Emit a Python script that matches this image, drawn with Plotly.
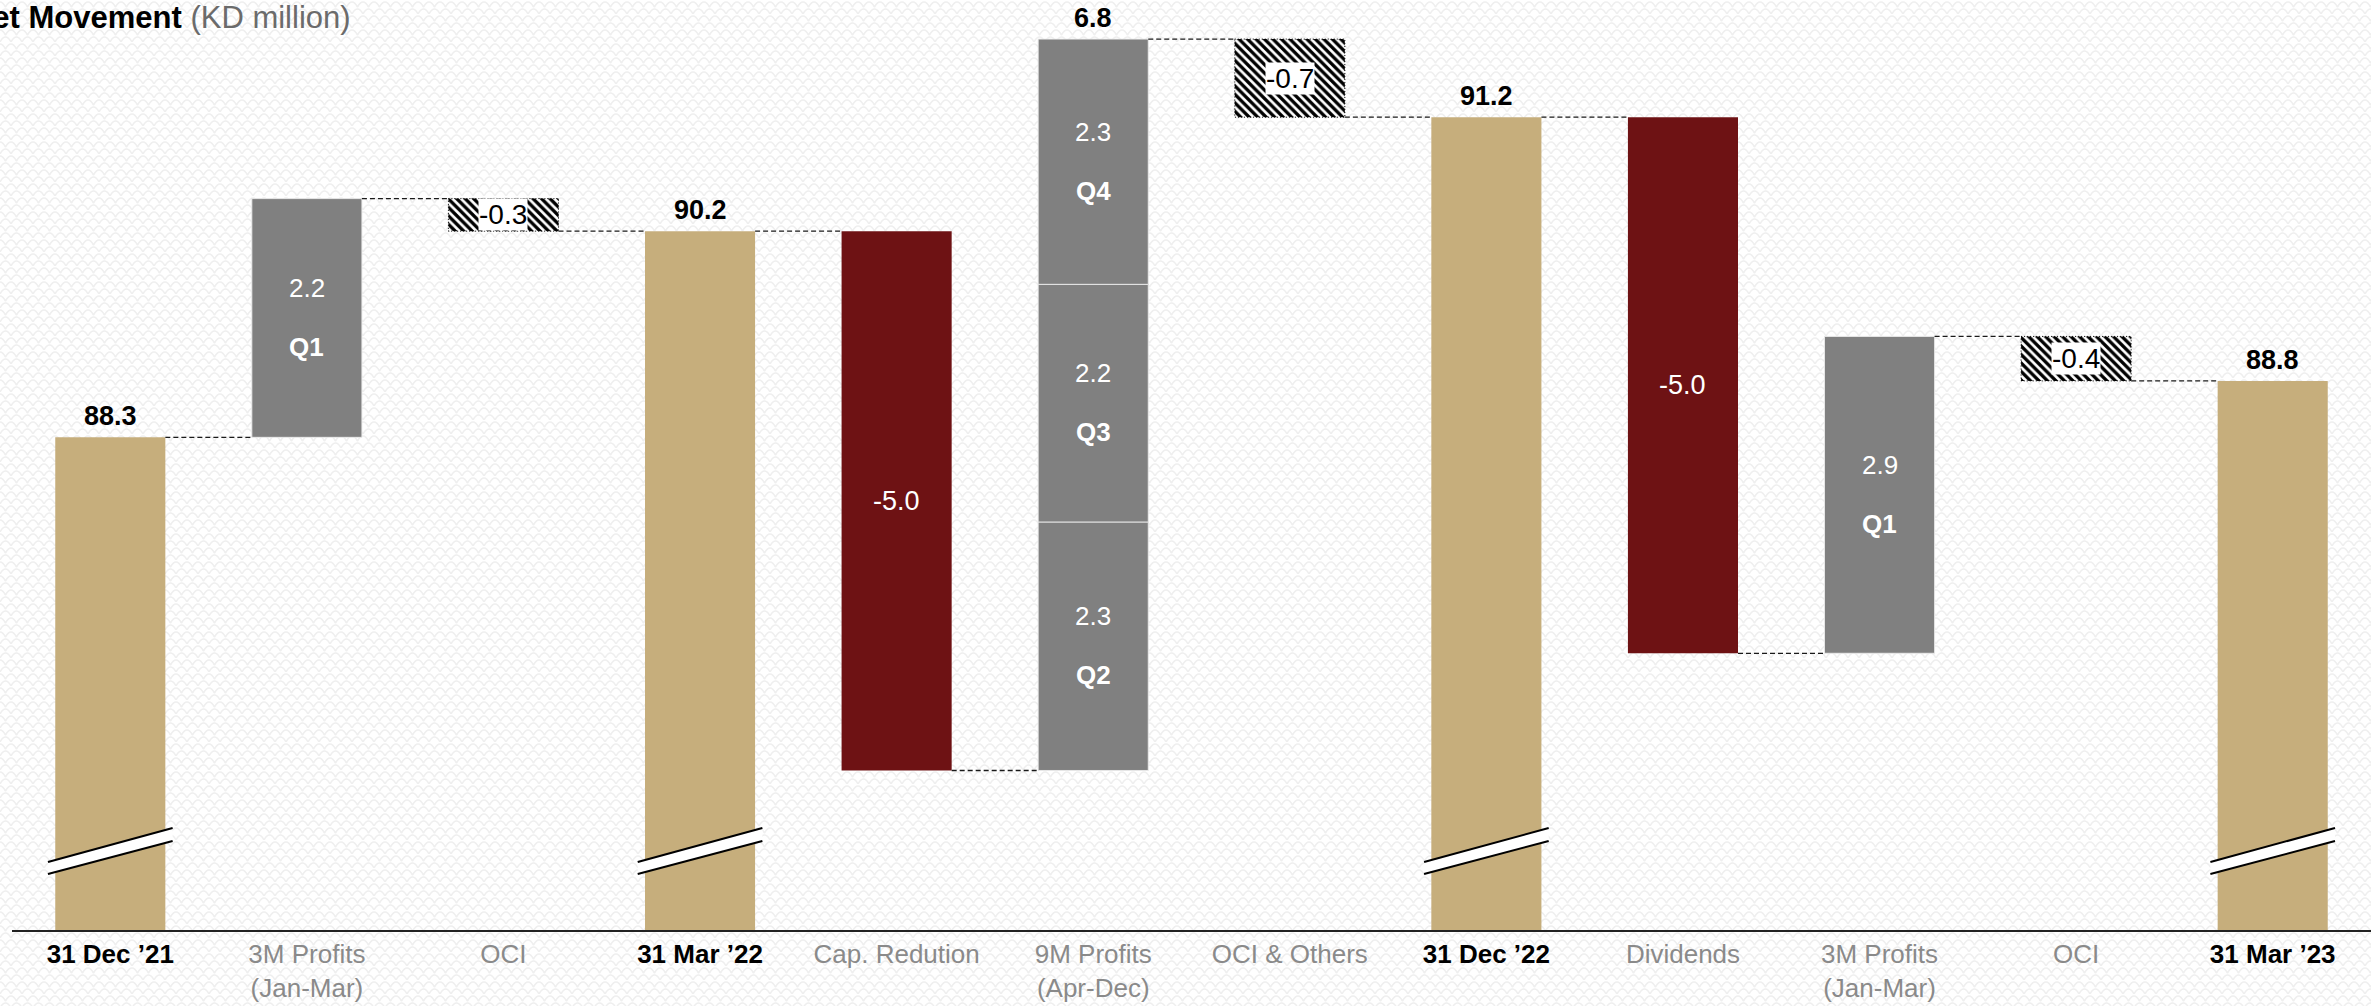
import base64
import plotly.graph_objects as go

# ---------------- data ----------------
CATEGORIES = ["31 Dec ’21", "3M Profits<br>(Jan-Mar)", "OCI", "31 Mar ’22", "Cap. Redution",
              "9M Profits<br>(Apr-Dec)", "OCI & Others", "31 Dec ’22", "Dividends",
              "3M Profits<br>(Jan-Mar)", "OCI", "31 Mar ’23"]
STEP_KIND = ["total", "profit", "oci", "total", "cut", "profit", "oci", "total", "cut", "profit", "oci", "total"]
STEP_VALUES = [[88.30], [2.20], [-0.30], [90.20], [-4.97], [2.29, 2.19, 2.26], [-0.72],
               [91.25], [-4.94], [2.92], [-0.41], [88.82]]
STEP_LABELS = [["88.3"], ["2.2"], ["-0.3"], ["90.2"], ["-5.0"], ["2.3", "2.2", "2.3"], ["-0.7"],
               ["91.2"], ["-5.0"], ["2.9"], ["-0.4"], ["88.8"]]
QUARTER_TAGS = [[], ["Q1"], [], [], [], ["Q2", "Q3", "Q4"], [], [], [], ["Q1"], [], []]
SUBTOTAL_LABELS = [None, None, None, None, None, "6.8", None, None, None, None, None, None]
TITLE_BOLD = "Net Asset Movement"
TITLE_UNIT = "(KD million)"

# ---------------- style ----------------
TAN = "#c6ae7c"
GRAY = "#808080"
RED = "#6e1214"
TICK_GRAY = "#8a8a8a"
W, H = 2371, 1006
ML, MR, MT, MB = 12, 0, 0, 76
PW, PH = W - ML - MR, H - MT - MB
Y_MIN, Y_MAX = 83.76, 92.33
PX_PER_UNIT = PH / (Y_MAX - Y_MIN)
BAR_W = 0.56
FONT = "Liberation Sans, Arial, Helvetica, sans-serif"

# ---------------- build waterfall from data ----------------
groups = {k: dict(x=[], y=[], base=[]) for k in ["total", "profit", "oci", "cut"]}
annotations = []
shapes = []
end_level = []
level = None
for i, kind in enumerate(STEP_KIND):
    if kind == "total":
        level = STEP_VALUES[i][0]
        groups["total"]["x"].append(i)
        groups["total"]["y"].append(level)
        groups["total"]["base"].append(0)
        annotations.append(dict(x=i, y=level, xref="x", yref="y", text="<b>%s</b>" % STEP_LABELS[i][0],
                                showarrow=False, yanchor="middle", yshift=21,
                                font=dict(size=27, color="black", family=FONT)))
    else:
        for j, v in enumerate(STEP_VALUES[i]):
            base = level
            level = level + v
            mid = base + v / 2
            g = groups[kind]
            g["x"].append(i)
            g["y"].append(v)
            g["base"].append(base)
            lab = STEP_LABELS[i][j]
            if kind == "profit":
                annotations.append(dict(x=i, y=mid, xref="x", yref="y", text=lab, showarrow=False,
                                        yanchor="middle", yshift=30,
                                        font=dict(size=26, color="white", family=FONT)))
                annotations.append(dict(x=i, y=mid, xref="x", yref="y", text="<b>%s</b>" % QUARTER_TAGS[i][j],
                                        showarrow=False, yanchor="middle", yshift=-29,
                                        font=dict(size=26, color="white", family=FONT)))
            elif kind == "cut":
                annotations.append(dict(x=i, y=mid, xref="x", yref="y", text=lab, showarrow=False,
                                        yanchor="middle",
                                        font=dict(size=27, color="white", family=FONT)))
            else:  # oci (hatched)
                annotations.append(dict(x=i, y=mid, xref="x", yref="y", text=lab, showarrow=False,
                                        yanchor="middle", bgcolor="white", borderpad=0,
                                        font=dict(size=28, color="black", family=FONT)))
                shapes.append(dict(type="rect", xref="x", yref="y", x0=i - BAR_W / 2, x1=i + BAR_W / 2,
                                   y0=base, y1=level, line=dict(color="black", width=1, dash="1px,2px"),
                                   fillcolor="rgba(0,0,0,0)", layer="above"))
        if SUBTOTAL_LABELS[i]:
            annotations.append(dict(x=i, y=max(level, level - sum(STEP_VALUES[i])), xref="x", yref="y",
                                    text="<b>%s</b>" % SUBTOTAL_LABELS[i], showarrow=False,
                                    yanchor="middle", yshift=21,
                                    font=dict(size=27, color="black", family=FONT)))
    end_level.append(level)

# connectors
for i in range(len(CATEGORIES) - 1):
    shapes.append(dict(type="line", xref="x", yref="y", x0=i + BAR_W / 2, x1=i + 1 - BAR_W / 2,
                       y0=end_level[i], y1=end_level[i],
                       line=dict(color="#1a1a1a", width=1.3, dash="5px,3px"), layer="above"))

# axis-break marks on total bars
def px_up(p):
    return Y_MIN + p / PX_PER_UNIT

for i in groups["total"]["x"]:
    xl, xr = i - 0.317, i + 0.317
    l1 = (px_up(68), px_up(102))
    l2 = (px_up(56), px_up(89))
    shapes.append(dict(type="path", xref="x", yref="y",
                       path="M %f %f L %f %f L %f %f L %f %f Z" % (xl, l1[0], xr, l1[1], xr, l2[1], xl, l2[0]),
                       fillcolor="white", line=dict(width=0), layer="above"))
    for (a, b) in (l1, l2):
        shapes.append(dict(type="line", xref="x", yref="y", x0=xl, x1=xr, y0=a, y1=b,
                           line=dict(color="black", width=2), layer="above"))

fig = go.Figure()
fig.add_trace(go.Bar(x=groups["total"]["x"], y=groups["total"]["y"], width=BAR_W,
                     marker=dict(color=TAN, line=dict(width=0)), hoverinfo="skip"))
fig.add_trace(go.Bar(x=groups["profit"]["x"], y=groups["profit"]["y"], base=groups["profit"]["base"], width=BAR_W,
                     marker=dict(color=GRAY, line=dict(color="rgba(235,235,235,0.9)", width=1)), hoverinfo="skip"))
fig.add_trace(go.Bar(x=groups["cut"]["x"], y=groups["cut"]["y"], base=groups["cut"]["base"], width=BAR_W,
                     marker=dict(color=RED, line=dict(width=0)), hoverinfo="skip"))
fig.add_trace(go.Bar(x=groups["oci"]["x"], y=groups["oci"]["y"], base=groups["oci"]["base"], width=BAR_W,
                     marker=dict(color="white", line=dict(width=0),
                                 pattern=dict(shape="\\", fgcolor="black", bgcolor="white",
                                              size=6, solidity=0.55, fgopacity=1)),
                     hoverinfo="skip"))

# tick labels
ticktext = []
for c, k in zip(CATEGORIES, STEP_KIND):
    if k == "total":
        ticktext.append("<span style='color:black'><b>%s</b></span>" % c)
    else:
        ticktext.append(c)

# title (the reference shows it cut at the left edge)
annotations.append(dict(xref="paper", yref="paper", x=(353 - ML) / PW, y=1 - 17 / PH,
                        xanchor="right", yanchor="middle", showarrow=False,
                        text="<b>%s</b> <span style='color:#6b6b6b'>%s</span>" % (TITLE_BOLD, TITLE_UNIT),
                        font=dict(size=31, color="black", family=FONT)))

# subtle scale-pattern background
svg = ('<svg xmlns="http://www.w3.org/2000/svg" width="%d" height="%d">'
       '<defs><pattern id="p" width="22" height="14" patternUnits="userSpaceOnUse">'
       '<path d="M0 14 Q5.5 4 11 14 M11 14 Q16.5 4 22 14 M-5.5 7 Q0 -3 5.5 7 M5.5 7 Q11 -3 16.5 7 M16.5 7 Q22 -3 27.5 7" '
       'fill="none" stroke="#efefef" stroke-width="1.6"/></pattern></defs>'
       '<rect width="100%%" height="100%%" fill="white"/>'
       '<rect width="100%%" height="100%%" fill="url(#p)"/></svg>') % (W, H)
uri = "data:image/svg+xml;base64," + base64.b64encode(svg.encode()).decode()

fig.update_layout(
    width=W, height=H, autosize=False,
    margin=dict(l=ML, r=MR, t=MT, b=MB),
    barmode="overlay", showlegend=False,
    paper_bgcolor="white", plot_bgcolor="rgba(0,0,0,0)",
    font=dict(family=FONT),
    xaxis=dict(range=[-0.5, len(CATEGORIES) - 0.5], tickmode="array",
               tickvals=list(range(len(CATEGORIES))), ticktext=ticktext,
               tickfont=dict(size=26, color=TICK_GRAY, family=FONT),
               showline=True, linecolor="#222222", linewidth=2, showgrid=False, zeroline=False,
               ticks="", fixedrange=True),
    yaxis=dict(range=[Y_MIN, Y_MAX], showticklabels=False, showgrid=False, zeroline=False,
               showline=False, fixedrange=True),
    annotations=annotations, shapes=shapes,
    images=[dict(source=uri, xref="paper", yref="paper", x=-ML / PW, y=1 + MT / PH,
                 sizex=W / PW, sizey=H / PH, xanchor="left", yanchor="top",
                 sizing="stretch", layer="below")],
)

fig.write_html("out.html")
